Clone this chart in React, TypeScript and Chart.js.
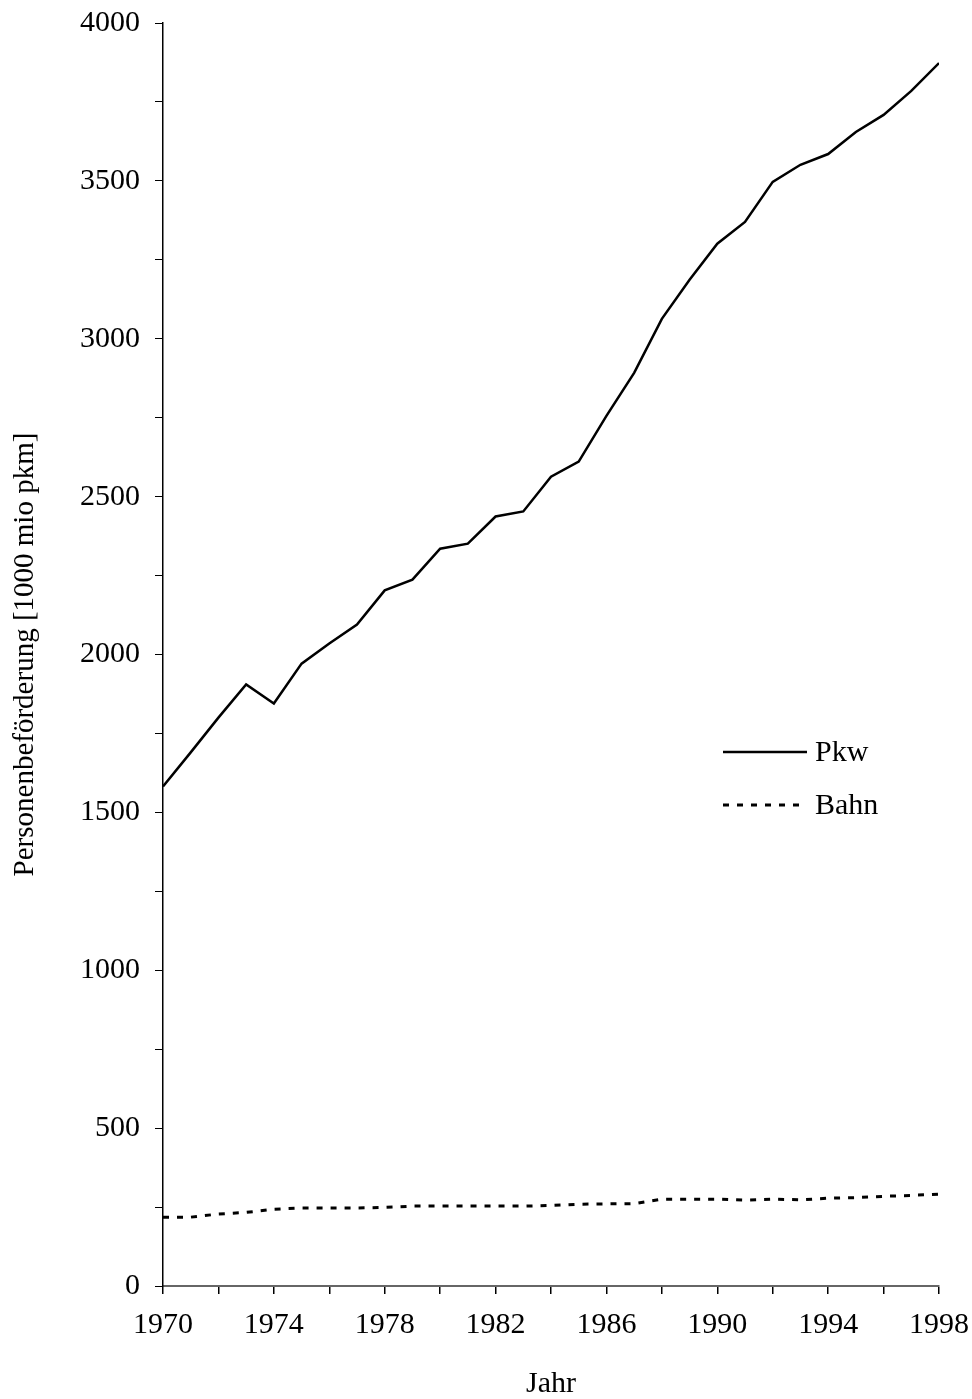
import React, { useEffect, useRef } from "react";
import { Chart, registerables } from "chart.js";

Chart.register(...registerables);

const years = [1970, 1971, 1972, 1973, 1974, 1975, 1976, 1977, 1978, 1979, 1980, 1981, 1982, 1983, 1984, 1985, 1986, 1987, 1988, 1989, 1990, 1991, 1992, 1993, 1994, 1995, 1996, 1997, 1998];
const pkw = [1582, 1690, 1800, 1905, 1845, 1971, 2035, 2095, 2203, 2237, 2335, 2351, 2437, 2453, 2563, 2611, 2756, 2892, 3063, 3187, 3301, 3370, 3497, 3551, 3585, 3655, 3709, 3785, 3873];
const bahn = [218, 218, 228, 233, 243, 247, 247, 247, 249, 253, 253, 253, 253, 253, 255, 259, 260, 261, 275, 275, 275, 272, 275, 273, 278, 280, 284, 287, 291];
const seriesLabels = ["Pkw", "Bahn"];
const xTitle = "Jahr";
const yTitle = "Personenbeförderung [1000 mio pkm]";

const FONT = '"Liberation Serif", "Times New Roman", serif';
const FS = 30;
const SHIFT_Y = 10;
const EXTRA_X = 10;

const legendPlugin = {
  id: "customLegend",
  afterDraw(chart: any) {
    const ctx = chart.ctx;
    const items = chart.data.datasets;
    const x0 = 723, x1 = 807, tx = 815;
    const ys = [752 + SHIFT_Y, 805 + SHIFT_Y];
    ctx.save();
    items.forEach((ds: any, i: number) => {
      ctx.beginPath();
      ctx.strokeStyle = ds.borderColor;
      ctx.lineWidth = ds.borderWidth;
      ctx.setLineDash(ds.borderDash || []);
      ctx.moveTo(x0, ys[i]);
      ctx.lineTo(x1, ys[i]);
      ctx.stroke();
      ctx.setLineDash([]);
      ctx.fillStyle = "#000";
      ctx.font = `${FS}px ${FONT}`;
      ctx.textAlign = "left";
      ctx.textBaseline = "middle";
      ctx.fillText(ds.label, tx, ys[i] + 1);
    });
    ctx.restore();
  },
};

export default function App() {
  const ref = useRef<HTMLCanvasElement | null>(null);
  useEffect(() => {
    if (!ref.current) return;
    const chart = new Chart(ref.current, {
      type: "line",
      data: {
        datasets: [
          {
            label: seriesLabels[0],
            data: years.map((y, i) => ({ x: y, y: pkw[i] })),
            borderColor: "#000",
            borderWidth: 2.5,
            pointRadius: 0,
            tension: 0,
            fill: false,
          },
          {
            label: seriesLabels[1],
            data: years.map((y, i) => ({ x: y, y: bahn[i] })),
            borderColor: "#000",
            borderWidth: 3,
            borderDash: [6, 8],
            pointRadius: 0,
            tension: 0,
            fill: false,
          },
        ],
      },
      options: {
        animation: false,
        responsive: false,
        maintainAspectRatio: false,
        layout: { padding: { top: 13, right: 26, left: 0, bottom: 0 } },
        plugins: { legend: { display: false }, tooltip: { enabled: false } },
        scales: {
          x: {
            type: "linear",
            min: 1970,
            max: 1998,
            afterFit: (s: any) => { s.height = 113; },
            ticks: {
              stepSize: 2,
              autoSkip: false,
              maxRotation: 0,
              padding: 13,
              color: "#000",
              font: { family: FONT, size: FS },
              callback: (v: any) => ((v - 1970) % 4 === 0 ? String(v) : ""),
            },
            grid: { drawOnChartArea: false, drawTicks: true, tickLength: 8, color: "#000", lineWidth: 1.5 },
            border: { display: true, color: "#666", width: 2 },
            title: {
              display: true,
              text: xTitle,
              color: "#000",
              font: { family: FONT, size: FS, lineHeight: 1 },
              padding: { top: 0, bottom: 0 },
            },
          },
          y: {
            type: "linear",
            min: 0,
            max: 4000,
            afterFit: (s: any) => { s.width = 163; },
            ticks: {
              stepSize: 250,
              autoSkip: false,
              padding: 15,
              color: "#000",
              font: { family: FONT, size: FS },
              callback: (v: any) => (v % 500 === 0 ? String(v) : ""),
            },
            grid: { drawOnChartArea: false, drawTicks: true, tickLength: 8, color: "#000", lineWidth: 1 },
            border: { display: true, color: "#000", width: 1.5 },
            title: {
              display: true,
              text: yTitle,
              color: "#000",
              font: { family: FONT, size: 29, lineHeight: 1 },
              padding: { top: 11, bottom: 0 },
            },
          },
        },
      },
      plugins: [legendPlugin],
    } as any);
    return () => chart.destroy();
  }, []);
  const W = 972 + EXTRA_X;
  const H = 1399 + SHIFT_Y;
  return (
    <div style={{ position: "fixed", left: 0, top: 0, width: 972, height: 1399, overflow: "hidden", background: "#fff" }}>
      <canvas
        ref={ref}
        width={W}
        height={H}
        style={{ position: "absolute", left: 0, top: -SHIFT_Y, width: W, height: H }}
      />
    </div>
  );
}
